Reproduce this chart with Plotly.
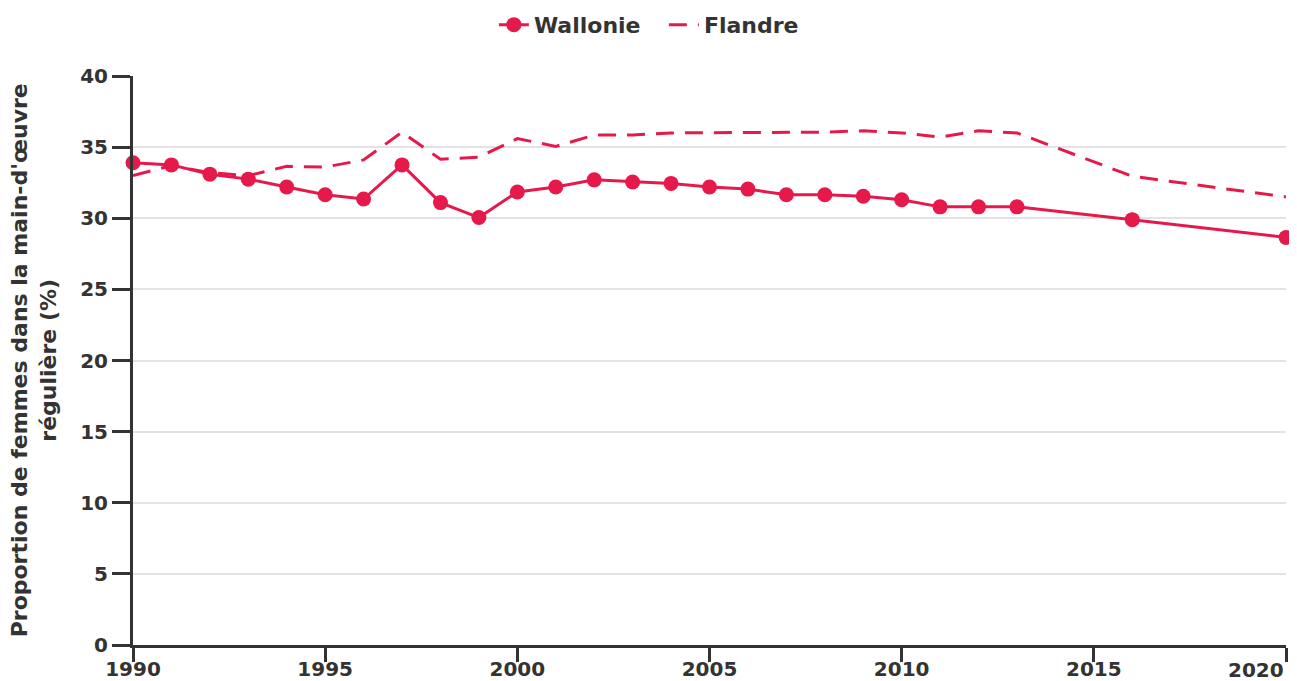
import plotly.graph_objects as go

# années et séries
years = [1990, 1991, 1992, 1993, 1994, 1995, 1996, 1997, 1998, 1999,
         2000, 2001, 2002, 2003, 2004, 2005, 2006, 2007, 2008, 2009,
         2010, 2011, 2012, 2013, 2016, 2020]
wallonie = [33.9, 33.75, 33.1, 32.75, 32.2, 31.65, 31.35, 33.75, 31.1, 30.05,
            31.85, 32.2, 32.7, 32.55, 32.45, 32.2, 32.05, 31.65, 31.65, 31.55,
            31.3, 30.8, 30.8, 30.8, 29.9, 28.65]
flandre = [33.0, 33.7, 33.2, 33.0, 33.65, 33.6, 34.1, 36.05, 34.15, 34.3,
           35.6, 35.05, 35.85, 35.85, 36.0, 36.0, 36.0, 36.0, 36.05, 36.15,
           36.0, 35.7, 36.15, 36.0, 32.95, 31.5]

y_ticks = [0, 5, 10, 15, 20, 25, 30, 35, 40]
x_ticks = [1990, 1995, 2000, 2005, 2010, 2015, 2020]

RED = "#e6194b"
TEXT = "#333333"
FONT = "DejaVu Sans"
TICK_FONT = dict(family=FONT, size=20, color=TEXT, weight="bold")

fig = go.Figure()
fig.add_trace(go.Scatter(
    x=years, y=wallonie, name="Wallonie", mode="lines+markers",
    line=dict(color=RED, width=3),
    marker=dict(color=RED, size=15),
    cliponaxis=False,
))
fig.add_trace(go.Scatter(
    x=years, y=flandre, name="Flandre", mode="lines",
    line=dict(color=RED, width=3, dash="18px,11px"),
    cliponaxis=False,
))

# the page body keeps its 8px margin, so the figure is 8px smaller than the window
fig.update_layout(
    width=1289,
    height=673,
    paper_bgcolor="white",
    plot_bgcolor="white",
    font=dict(family=FONT, color=TEXT, size=16),
    margin=dict(l=125, r=11, t=68, b=36),
    showlegend=True,
    legend=dict(
        orientation="h",
        x=0.313, xanchor="left",
        y=0.975, yref="container", yanchor="middle",
        entrywidth=125,
        font=dict(family=FONT, size=22, color=TEXT, weight="bold"),
    ),
)
# last label is right-aligned to the tick, like the original
x_text = [str(t) for t in x_ticks[:-1]] + [""]
fig.update_xaxes(
    range=[1990, 2020],
    tickvals=x_ticks,
    ticktext=x_text,
    automargin=False,
    showgrid=False,
    zeroline=False,
    showline=True,
    linecolor=TEXT,
    linewidth=3,
    ticks="outside",
    ticklen=14,
    tickwidth=3,
    tickcolor=TEXT,
    tickfont=TICK_FONT,
    ticklabelstandoff=-10,
)
fig.update_yaxes(
    range=[0, 40],
    tickvals=y_ticks,
    automargin=False,
    showgrid=True,
    gridcolor="#e3e3e3",
    gridwidth=1.5,
    zeroline=False,
    showline=True,
    linecolor=TEXT,
    linewidth=3,
    ticks="outside",
    ticklen=18,
    tickwidth=3,
    tickcolor=TEXT,
    tickfont=TICK_FONT,
)
fig.add_annotation(
    x=x_ticks[-1], xref="x", xanchor="right",
    y=0, yref="paper", yanchor="top", yshift=-11,
    text=str(x_ticks[-1]), showarrow=False,
    font=TICK_FONT,
)
fig.add_annotation(
    x=-0.086, xref="paper", xanchor="center",
    y=0.5, yref="paper", yanchor="middle",
    text="Proportion de femmes dans la main-d'œuvre<br>régulière (%)",
    textangle=-90, showarrow=False,
    font=dict(family=FONT, size=22, color=TEXT, weight="bold"),
)

fig.write_html("out.html")
